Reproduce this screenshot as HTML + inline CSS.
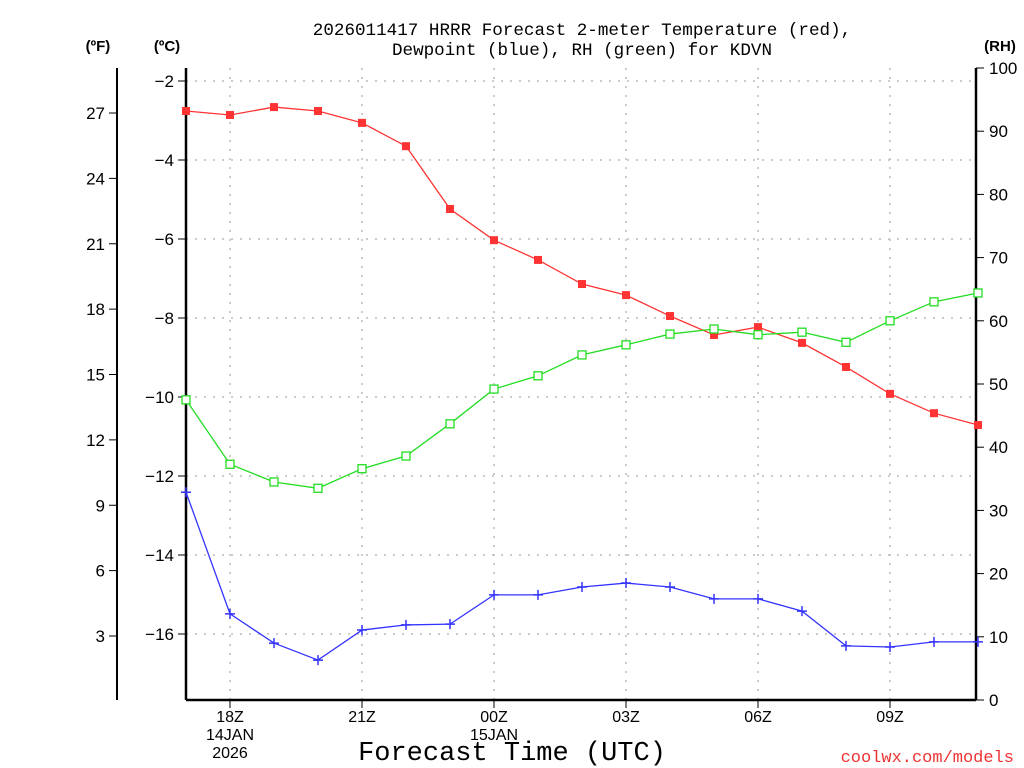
<!DOCTYPE html>
<html><head><meta charset="utf-8"><style>
body{margin:0;background:#fff;}
svg{display:block;font-family:"Liberation Sans","DejaVu Sans",sans-serif;}
.mono{font-family:"Liberation Mono","DejaVu Sans Mono",monospace;}
</style></head><body>
<svg id="chart" width="1024" height="768" viewBox="0 0 1024 768">
<text class="mono" x="582" y="35" text-anchor="middle" font-size="17.6" fill="#000">2026011417 HRRR Forecast 2-meter Temperature (red),</text>
<text class="mono" x="582" y="55" text-anchor="middle" font-size="17.6" fill="#000">Dewpoint (blue), RH (green) for KDVN</text>
<text x="98" y="51" text-anchor="middle" font-size="15" font-weight="bold">(ºF)</text>
<text x="167" y="51" text-anchor="middle" font-size="15" font-weight="bold">(ºC)</text>
<text x="1000" y="51" text-anchor="middle" font-size="15" font-weight="bold">(RH)</text>
<text class="mono" x="512" y="760" text-anchor="middle" font-size="27">Forecast Time (UTC)</text>
<text class="mono" x="1014" y="762" text-anchor="end" font-size="17" fill="#e33">coolwx.com/models</text>
<g id="grid"></g><g id="axes"></g><g id="series"></g>
</svg>
<script>
const hours=["17Z","18Z","19Z","20Z","21Z","22Z","23Z","00Z","01Z","02Z","03Z","04Z","05Z","06Z","07Z","08Z","09Z","10Z","11Z"];
const tempC=[-2.76,-2.86,-2.66,-2.76,-3.06,-3.65,-5.24,-6.03,-6.53,-7.14,-7.42,-7.95,-8.43,-8.23,-8.63,-9.24,-9.92,-10.41,-10.71];
const dewC=[-12.41,-15.49,-16.23,-16.66,-15.9,-15.77,-15.75,-15.01,-15.01,-14.81,-14.71,-14.81,-15.11,-15.11,-15.42,-16.3,-16.33,-16.2,-16.2];
const rh=[47.5,37.3,34.5,33.5,36.6,38.6,43.7,49.2,51.3,54.6,56.2,57.9,58.7,57.8,58.2,56.6,60,63,64.4];
const cTicks=[-2,-4,-6,-8,-10,-12,-14,-16];
const fTicks=[27,24,21,18,15,12,9,6,3];
const rhTicks=[0,10,20,30,40,50,60,70,80,90,100];
const xLabels=[{i:1,t:["18Z","14JAN","2026"]},{i:4,t:["21Z"]},{i:7,t:["00Z","15JAN"]},{i:10,t:["03Z"]},{i:13,t:["06Z"]},{i:16,t:["09Z"]}];

const L=186,R=976,T=68,B=700;
const NS="http://www.w3.org/2000/svg";
const xS=i=>L+i*44;
const yC=c=>81+(-2-c)*39.5;
const yF=f=>636-(f-3)*(523/24);
const yR=r=>B-r*(B-T)/100;
function mk(tag,attrs,parent,text){const e=document.createElementNS(NS,tag);for(const k in attrs)e.setAttribute(k,attrs[k]);if(text!==undefined)e.textContent=text;parent.appendChild(e);return e;}
const grid=document.getElementById('grid'),axes=document.getElementById('axes'),ser=document.getElementById('series');
cTicks.forEach(c=>{const l=mk('line',{x1:L,x2:R,y1:yC(c),y2:yC(c),stroke:'#bbb','stroke-dasharray':'2,7','stroke-width':1.5},grid);

});
xLabels.forEach(o=>{const l=mk('line',{x1:xS(o.i),x2:xS(o.i),y1:T,y2:B,stroke:'#bbb','stroke-dasharray':'2,7','stroke-width':1.5},grid);

});
[[L,T,L,B],[L,B,R,B],[R,T,R,B]].forEach(p=>{const l=mk('line',{x1:p[0],y1:p[1],x2:p[2],y2:p[3],stroke:'#000','stroke-width':2.5},axes);

});
const fl=mk('line',{x1:117,y1:T,x2:117,y2:B,stroke:'#000','stroke-width':2},axes);


cTicks.forEach(c=>{mk('line',{x1:L-8,x2:L,y1:yC(c),y2:yC(c),stroke:'#000'},axes);
const t=mk('text',{x:L-12,y:yC(c)+6,'text-anchor':'end','font-size':17},axes,(c<0?'\u2212':'')+Math.abs(c));

});
fTicks.forEach(f=>{mk('line',{x1:109,x2:117,y1:yF(f),y2:yF(f),stroke:'#000'},axes);
const t=mk('text',{x:105,y:yF(f)+6,'text-anchor':'end','font-size':17},axes,String(f));

});
rhTicks.forEach(r=>{mk('line',{x1:R,x2:R+8,y1:yR(r),y2:yR(r),stroke:'#000'},axes);
const t=mk('text',{x:989,y:yR(r)+6,'font-size':17},axes,String(r));

});
xLabels.forEach(o=>{mk('line',{x1:xS(o.i),x2:xS(o.i),y1:B,y2:B+8,stroke:'#000'},axes);
o.t.forEach((s,k)=>{const t=mk('text',{x:xS(o.i),y:722+k*18,'text-anchor':'middle','font-size':16},axes,s);

});});
function line(vals,yf,col,name){const pts=vals.map((v,i)=>xS(i)+','+yf(v)).join(' ');
const p=mk('polyline',{points:pts,fill:'none',stroke:col,'stroke-width':1.3},ser);

}
line(tempC,yC,'#f33','temperature-line');
line(dewC,yC,'#33f','dewpoint-line');
line(rh,yR,'#2d2','rh-line');
tempC.forEach((v,i)=>{const m=mk('rect',{x:xS(i)-4,y:yC(v)-4,width:8,height:8,fill:'#f33'},ser);

});
rh.forEach((v,i)=>{const m=mk('rect',{x:xS(i)-4,y:yR(v)-4,width:8,height:8,fill:'#fff',stroke:'#2d2','stroke-width':1.3},ser);

});
dewC.forEach((v,i)=>{const x=xS(i),y=yC(v);const m=mk('path',{d:`M${x-5},${y}H${x+5}M${x},${y-5}V${y+5}`,stroke:'#33f','stroke-width':1.5},ser);

});
</script>
</body></html>
